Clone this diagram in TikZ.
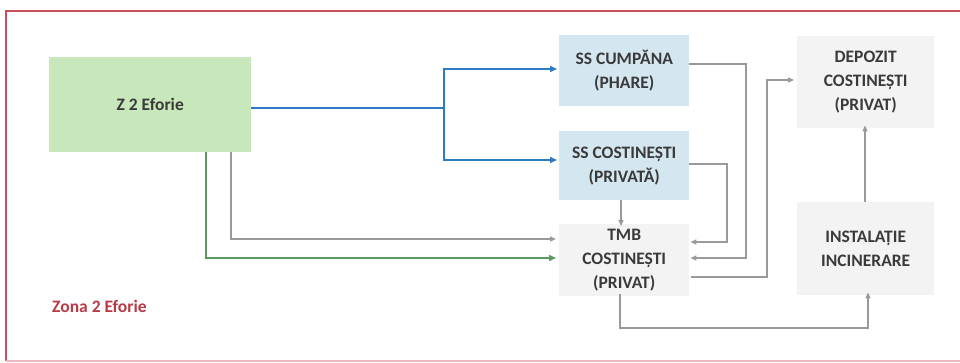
\documentclass[tikz,border=0pt]{standalone}
\usepackage{fontspec}
\setmainfont{Carlito}
\usetikzlibrary{arrows.meta}
\definecolor{frameRed}{HTML}{C9505A}
\definecolor{zoneRed}{HTML}{B83A45}
\definecolor{greenFill}{HTML}{C8E8BC}
\definecolor{blueFill}{HTML}{D4E7F1}
\definecolor{grayFill}{HTML}{F2F3F2}
\definecolor{blueLine}{HTML}{2E7BC4}
\definecolor{greenLine}{HTML}{5A9A62}
\definecolor{grayLine}{HTML}{9A9A9A}
\definecolor{txt}{HTML}{3A3A3A}
\tikzset{
  box/.style={draw=none, inner sep=0pt, align=center, font=\fontsize{17.5}{24}\selectfont\bfseries, text=txt, anchor=north west},
  bluearrow/.style={draw=blueLine, line width=1.4pt, -{Triangle[length=7pt,width=6pt]}},
  bluepath/.style={draw=blueLine, line width=1.4pt},
  greenarrow/.style={draw=greenLine, line width=1.4pt, -{Triangle[length=7pt,width=6pt]}},
  grayarrow/.style={draw=grayLine, line width=1.3pt, -{Triangle[length=6pt,width=5pt]}},
}
\begin{document}
\begin{tikzpicture}[x=1pt,y=-1pt]
\useasboundingbox (0,0) rectangle (960,363);
\fill[white] (0,0) rectangle (960,363);
% frame
\draw[frameRed, line width=1.2pt] (970,11) -- (6,11) -- (6,361);
\draw[frameRed!40, line width=1.2pt] (6,361) -- (970,361);
% boxes
\node[box, fill=greenFill, minimum width=202pt, minimum height=95pt] (z2) at (49,57) {Z 2 Eforie};
\node[box, fill=blueFill, minimum width=130pt, minimum height=71pt] (ssc) at (559,35) {SS CUMPĂNA\\(PHARE)};
\node[box, fill=blueFill, minimum width=130pt, minimum height=69pt] (sscost) at (559,131) {SS COSTINEȘTI\\(PRIVATĂ)};
\node[box, fill=grayFill, minimum width=130pt, minimum height=72pt] (tmb) at (559,224) {TMB\\COSTINEȘTI\\(PRIVAT)};
\node[box, fill=grayFill, minimum width=137pt, minimum height=92pt] (dep) at (797,36) {DEPOZIT\\COSTINEȘTI\\(PRIVAT)};
\node[box, fill=grayFill, minimum width=137pt, minimum height=93pt] (inc) at (797,202) {INSTALAȚIE\\INCINERARE};
\node[font=\fontsize{17.5}{24}\selectfont\bfseries, text=zoneRed, anchor=west, inner sep=0pt] (zona) at (52,306) {Zona 2 Eforie};
% blue connectors
\coordinate (bsplit) at (444,108);
\draw[bluepath] (z2.east |- bsplit) -- (bsplit);
\draw[bluearrow] (bsplit) |- ([xshift=-2pt]ssc.west |- 0,69);
\draw[bluearrow] (bsplit) |- ([xshift=-2pt]sscost.west |- 0,160);
% from Z2 to TMB
\draw[grayarrow] (z2.south -| 231,0) |- ([xshift=-3pt]tmb.west |- 0,239);
\draw[greenarrow] (z2.south -| 206,0) |- ([xshift=-3pt]tmb.west |- 0,258);
% SS to TMB
\draw[grayarrow] (ssc.east |- 0,64) -- (746,64) |- ([xshift=1pt]tmb.east |- 0,258);
\draw[grayarrow] (sscost.east |- 0,164) -- (727,164) |- ([xshift=1pt]tmb.east |- 0,242);
\draw[grayarrow] (sscost.south -| 621,0) -- ([yshift=-2pt]tmb.north -| 621,0);
% TMB to depozit
\draw[grayarrow] ([xshift=2pt]tmb.east |- 0,277) -- (767,277) |- ([xshift=-3pt]dep.west |- 0,80);
% incinerare to depozit
\draw[grayarrow] (inc.north -| 865,0) -- ([yshift=3pt]dep.south -| 865,0);
% TMB to incinerare
\draw[grayarrow] ([yshift=2pt]tmb.south -| 620,0) -- (620,328) -| ([yshift=3pt]inc.south -| 868,0);
\end{tikzpicture}
\end{document}
